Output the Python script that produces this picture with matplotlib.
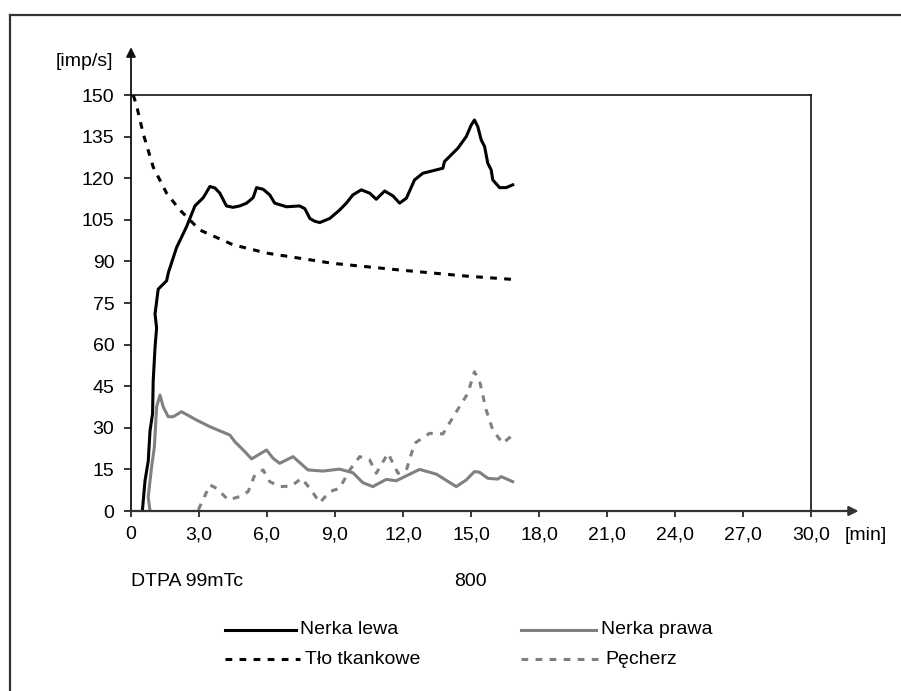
import numpy as np
import matplotlib
matplotlib.use("Agg")
import matplotlib.pyplot as plt
from matplotlib.lines import Line2D

plt.rcParams['font.family'] = ['Liberation Sans', 'DejaVu Sans']

W, H = 901, 691

# --- data (minutes, imp/s) ---
lewa_t = [0.50, 0.62, 0.76, 0.84, 0.95, 0.98, 1.06, 1.13, 1.06, 1.20, 1.57, 1.65, 2.01, 2.45,
          2.82, 3.19, 3.48, 3.70, 3.92, 4.21, 4.50, 4.80, 5.10, 5.39, 5.54, 5.83, 6.12, 6.34,
          6.86, 7.44, 7.67, 7.89, 8.10, 8.33, 8.77, 9.20, 9.50, 9.79, 10.16, 10.53, 10.82,
          11.19, 11.56, 11.85, 12.15, 12.51, 12.88, 13.32, 13.76, 13.83, 14.42, 14.79, 15.00,
          15.15, 15.30, 15.45, 15.60, 15.74, 15.89, 15.96, 16.26, 16.55, 16.84]
lewa_v = [0, 11, 18, 29, 35, 47, 59, 66, 71, 80, 83, 86, 95, 102.5,
          110, 113, 117, 116.5, 114.6, 110, 109.5, 110, 111, 113, 116.6, 116, 114, 111,
          109.7, 110, 109, 105.5, 104.5, 104, 105.5, 108.5, 111, 114, 115.8, 114.6, 112.4,
          115.4, 113.6, 111, 112.8, 119.4, 121.8, 122.7, 123.6, 126, 130.8, 135, 139,
          141, 138.6, 133.8, 131.4, 125.4, 123, 119.4, 116.6, 116.6, 117.6]

tlo_t = [0.10, 0.25, 0.54, 0.98, 1.57, 2.16, 3.04, 4.50, 5.98, 8.90, 11.85, 14.79, 16.84]
tlo_v = [150, 146, 136, 124, 114.6, 108.5, 101.3, 96, 93, 89.3, 86.9, 84.7, 83.5]

prawa_t = [0.84, 0.76, 0.91, 1.03, 1.13, 1.28, 1.42, 1.64, 1.86, 2.23, 2.89, 3.48, 4.36,
           4.58, 4.95, 5.32, 5.98, 6.27, 6.56, 7.15, 7.81, 8.47, 9.20, 9.79, 10.23, 10.67,
           11.26, 11.70, 12.73, 13.47, 14.35, 14.79, 15.15, 15.37, 15.74, 16.18, 16.33, 16.84]
prawa_v = [0, 5, 16, 23, 37.6, 41.8, 37.6, 34, 34, 35.8, 32.8, 30.4, 27.4,
           25, 22, 18.8, 22, 19, 17.2, 19.6, 14.8, 14.4, 15.1, 13.8, 10.2, 8.8,
           11.4, 10.9, 15, 13.3, 8.8, 11.2, 14.2, 14, 11.8, 11.5, 12.4, 10.6]

pech_t = [2.97, 3.48, 3.77, 4.29, 4.80, 5.17, 5.46, 5.83, 6.12, 6.56, 7.08, 7.52, 7.89,
          8.33, 8.77, 9.20, 9.65, 10.09, 10.53, 10.82, 11.34, 11.78, 12.15, 12.51, 13.17,
          13.76, 14.49, 14.86, 15.15, 15.37, 15.67, 15.96, 16.40, 16.84]
pech_v = [0.4, 9.4, 8.2, 4, 5.2, 7, 13, 14.8, 10.6, 8.8, 9, 11.8, 8.2,
          3, 7, 8.2, 14.8, 19.6, 18.4, 13.6, 20.8, 13.6, 14.8, 24.4, 28,
          27.8, 37.6, 42.4, 50.2, 47.2, 36.4, 29.2, 24.4, 27.4]

x_ticks = [0, 3, 6, 9, 12, 15, 18, 21, 24, 27, 30]
x_labels = ['0', '3,0', '6,0', '9,0', '12,0', '15,0', '18,0', '21,0', '24,0', '27,0', '30,0']
y_ticks = [0, 15, 30, 45, 60, 75, 90, 105, 120, 135, 150]

legend_labels = ['Nerka lewa', 'Nerka prawa', 'Tło tkankowe', 'Pęcherz']

BLACK = '#000000'
GRAY = '#808080'
FS = 14
DASH = (0, (2.2, 2.4))


def fx(px):
    return px / W


def fy(py):
    return 1 - py / H


fig = plt.figure(figsize=(W / 100, H / 100), dpi=100)

# outer frame (only left and top edges visible)
fig.add_artist(Line2D([fx(10), fx(10)], [fy(15), 0], color='#333333', lw=1.6))
fig.add_artist(Line2D([fx(10), 1], [fy(15), fy(15)], color='#333333', lw=1.6))

ax = fig.add_axes([fx(131), fy(511), (811 - 131) / W, (511 - 95) / H])
ax.set_xlim(0, 30)
ax.set_ylim(0, 150)

ax.plot(lewa_t, lewa_v, color=BLACK, lw=2.2, solid_joinstyle='round')
ax.plot(tlo_t, tlo_v, color=BLACK, lw=2.2, ls=DASH)
ax.plot(prawa_t, prawa_v, color=GRAY, lw=2.2, solid_joinstyle='round')
ax.plot(pech_t, pech_v, color=GRAY, lw=2.2, ls=DASH)

for s in ['top', 'right']:
    ax.spines[s].set_color('#111111')
    ax.spines[s].set_linewidth(1.2)
for s in ['left', 'bottom']:
    ax.spines[s].set_visible(False)

# axis arrows
ax.annotate('', xy=(0, 1.115), xytext=(0, 0), xycoords='axes fraction',
            arrowprops=dict(arrowstyle='-|>', color='#111111', lw=1.3,
                            mutation_scale=14, shrinkA=0, shrinkB=0))
ax.annotate('', xy=(1.07, 0), xytext=(0, 0), xycoords='axes fraction',
            arrowprops=dict(arrowstyle='-|>', color='#333333', lw=1.6,
                            mutation_scale=14, shrinkA=0, shrinkB=0))

ax.set_xticks(x_ticks)
ax.set_xticklabels(x_labels)
ax.set_yticks(y_ticks)
ax.tick_params(axis='x', direction='out', length=4, width=1.1, pad=7, labelsize=FS)
ax.tick_params(axis='y', direction='out', length=5, width=1.1, pad=7, labelsize=FS)

fig.text(fx(845), fy(535), '[min]', fontsize=FS, va='center', ha='left')
fig.text(fx(113), fy(62), '[imp/s]', fontsize=FS, va='center', ha='right')

fig.text(fx(131), fy(581), 'DTPA 99mTc', fontsize=FS, va='center', ha='left')
fig.text(fx(487), fy(581), '800', fontsize=FS, va='center', ha='right')

# legend, drawn by hand to keep the loose two-column layout
rows = [fy(630), fy(659)]
items = [(legend_labels[0], BLACK, '-', 225, 296, 300, rows[0]),
         (legend_labels[1], GRAY, '-', 521, 596, 601, rows[0]),
         (legend_labels[2], BLACK, DASH, 225, 300, 305, rows[1]),
         (legend_labels[3], GRAY, DASH, 521, 600, 605, rows[1])]
for lab, col, ls, x0, x1, xt, yy in items:
    fig.add_artist(Line2D([fx(x0), fx(x1)], [yy, yy], color=col, lw=2.2, ls=ls))
    fig.text(fx(xt), yy, lab, fontsize=FS, va='center', ha='left')

fig.savefig('out.png', dpi=100)
